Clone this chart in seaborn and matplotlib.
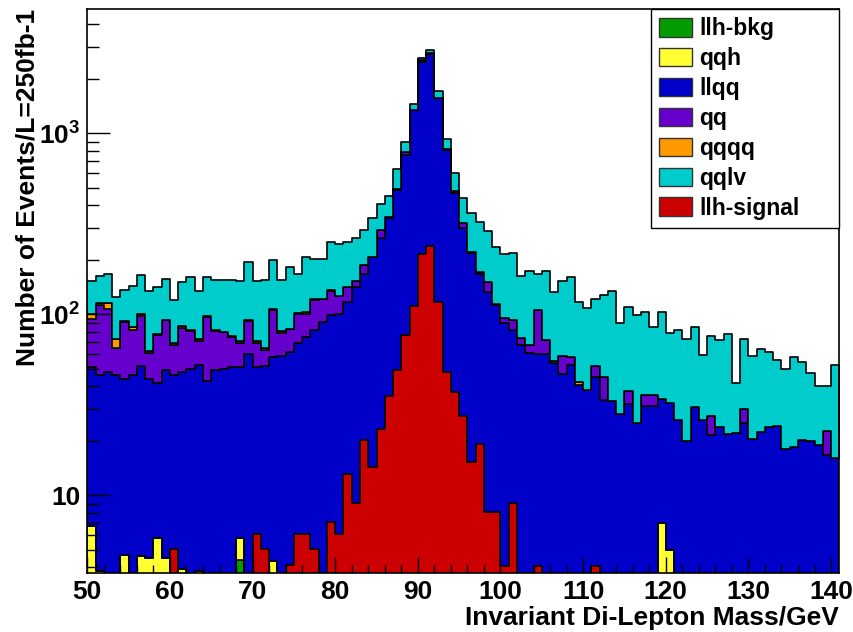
import numpy as np
import pandas as pd
import matplotlib
matplotlib.use("Agg")
import matplotlib.pyplot as plt
from matplotlib.patches import Patch
from matplotlib.ticker import (
    FixedLocator,
    FixedFormatter,
    MultipleLocator,
    LogLocator,
    NullFormatter,
)
import seaborn as sns

MASS_LO = 50  # lower edge of first 1 GeV bin

# events per 1 GeV bin, 50..140 GeV (91 bins)
llh_bkg = [
    0, 0, 0, 0, 0, 0, 0, 0, 0, 0,
    0, 0, 0, 0, 0, 0, 0, 0, 4.4, 0,
    0, 0, 0, 0, 0, 0, 0, 0, 0, 0,
    0, 0, 0, 0, 0, 0, 0, 0, 0, 0,
    0, 0, 0, 0, 0, 0, 0, 0, 0, 0,
    0, 0, 0, 0, 0, 0, 0, 0, 0, 0,
    0, 0, 0, 0, 0, 0, 0, 0, 0, 0,
    0, 0, 0, 0, 0, 0, 0, 0, 0, 0,
    0, 0, 0, 0, 0, 0, 0, 0, 0, 0,
    0,
]
qqh = [
    6.8, 3.8, 0, 0, 4.7, 0, 4.6, 4.5, 5.8, 4.5,
    0, 3.9, 0, 3.8, 0, 0, 0, 0, 1.4, 0,
    0, 0, 4.35, 0, 0, 0, 0, 0, 0, 0,
    0, 0, 0, 0, 0, 0, 0, 0, 0, 0,
    0, 0, 0, 0, 0, 0, 0, 0, 0, 0,
    0, 0, 0, 0, 0, 0, 0, 0, 0, 0,
    0, 0, 0, 0, 0, 0, 0, 0, 0, 7.0,
    5.0, 0, 0, 0, 0, 0, 0, 0, 0, 0,
    0, 0, 0, 0, 0, 0, 0, 0, 0, 0,
    0,
]
llqq = [
    44.2, 42.2, 48, 46, 39.3, 46, 47.4, 39.5, 36.2, 44.5,
    46, 44.1, 50, 48.7, 43, 49, 50, 51, 45.2, 60,
    51, 51.8, 53.5, 58.8, 62, 69.7, 74.6, 81.9, 91, 99,
    101, 117, 141, 168, 208, 263, 342, 486, 759, 1345,
    2488, 2731, 1561, 809, 470, 301, 217, 168, 132, 113,
    90, 82, 68, 61, 60, 60, 54, 47, 52.5, 40.7,
    38, 45, 33.6, 33, 28, 32, 25, 31, 31, 27,
    27.5, 26, 20, 30.6, 26, 21.5, 23.7, 21.7, 22.2, 25,
    20.5, 22.3, 23.7, 24.3, 18, 18.4, 20.2, 20, 19, 16.8,
    16,
]
qq = [
    43, 66, 59, 19, 47, 36, 46, 17, 35, 43.6,
    22, 36, 30.5, 19, 54, 32, 29.8, 23.6, 18.7, 31.8,
    18.7, 11.7, 48.2, 20.2, 20.6, 31.3, 26.4, 38.1, 30, 36,
    25, 25, 11, 19, 0, 29, 2, 6, 33, 5,
    53, 35, 13, 6, 12, 17, 5, 4, 18, 1,
    6, 11, 6, 6.5, 45, 12.5, 0, 11.6, 5.3, 0,
    0, 7, 11.6, 0, 0, 5.7, 0, 5, 5, 0,
    0, 0, 0, 0, 0, 6, 0, 0, 0, 5,
    0, 0, 0, 0, 0, 0, 0, 0, 0, 6,
    0,
]
qqqq = [
    7, 4, 8, 8, 1, 3, 2, 2, 1, 0.4,
    1, 2, 1.5, 1.5, 1, 1, 0.2, 1.4, 1.3, 1.2,
    1.3, 1.5, 0.5, 2, 0.4, 1, 2, 1, 1, 1,
    1, 0, 0, 0, 0, 0, 0, 0, 0, 0,
    0, 0, 0, 0, 0, 0, 0, 0, 0, 0,
    0, 0, 0, 0, 0, 0, 1, 0, 0, 1.7,
    0, 0, 0, 0, 0, 0, 0, 0, 0, 0,
    0, 0, 0, 0, 0, 0, 0, 0, 0, 0,
    0, 0, 0, 0, 0, 0, 0, 0, 0, 0,
    0,
]
qqlv = [
    52, 47, 51, 52, 45, 58, 64, 72, 63, 64,
    51, 65, 79, 62, 63, 73, 75, 79, 82, 102,
    82, 90, 94, 74, 100, 66, 105, 80, 79, 116,
    119, 108, 112, 107, 131, 115, 108, 143, 100, 102,
    77, 120, 146, 119, 122, 123, 139, 150, 140, 121,
    118, 124, 89, 106, 63, 100, 78, 94, 103, 74,
    71, 70, 82, 102, 61, 72, 74, 67, 49, 68.5,
    46, 56, 53, 55, 33.5, 48.5, 48, 56, 19.7, 43,
    38, 42, 38.5, 31.6, 32, 40, 34, 27.6, 21, 17.5,
    36.5,
]
llh_signal = [
    0, 0, 0, 0, 0, 0, 0, 0, 0, 0,
    5.05, 0, 0, 0, 0, 0, 0, 0, 0, 0,
    6.1, 5.05, 0, 0, 4.12, 6.1, 6.1, 5.05, 0, 7.1,
    6.1, 13.1, 9.1, 20.2, 14.3, 23.2, 35.5, 49, 76.9, 111,
    215, 238, 117, 48.2, 37.2, 27.4, 15.3, 19.2, 8.1, 8.1,
    4.07, 9.1, 0, 0, 4.07, 0, 0, 0, 0, 0,
    0, 4.07, 0, 0, 0, 0, 0, 0, 0, 0,
    0, 0, 0, 0, 0, 0, 0, 0, 0, 0,
    0, 0, 0, 0, 0, 0, 0, 0, 0, 0,
    0,
]

# stack order, bottom -> top (same as legend order)
processes = ["llh-bkg", "qqh", "llqq", "qq", "qqqq", "qqlv"]
colors = {
    "llh-bkg": "#009c00",
    "qqh": "#ffff33",
    "llqq": "#0000c8",
    "qq": "#6600cc",
    "qqqq": "#ff9900",
    "qqlv": "#00cccc",
    "llh-signal": "#cc0000",
}

edges = np.arange(MASS_LO, MASS_LO + len(llqq) + 1)
centers = edges[:-1] + 0.5
bin_edges = edges.tolist()  # seaborn chokes on an ndarray here when weights are given

frames = []
for name, vals in zip(processes, [llh_bkg, qqh, llqq, qq, qqqq, qqlv]):
    frames.append(pd.DataFrame({"mass": centers, "events": vals, "process": name}))
df = pd.concat(frames, ignore_index=True)

sns.set_style("white")
plt.rcParams["font.family"] = ["Liberation Sans", "DejaVu Sans"]
plt.rcParams["font.weight"] = "bold"
plt.rcParams["mathtext.fontset"] = "custom"
plt.rcParams["mathtext.bf"] = "Liberation Sans:bold"
plt.rcParams["mathtext.rm"] = "Liberation Sans:bold"
plt.rcParams["mathtext.default"] = "bf"
for key in ["text.color", "axes.labelcolor", "xtick.color", "ytick.color"]:
    plt.rcParams[key] = "black"

fig = plt.figure(figsize=(8.54, 6.32), dpi=100)
fig.patch.set_facecolor("white")
ax = fig.add_axes([0.1022, 0.0929, 0.8806, 0.8924])
ax.set_yscale("log")

# seaborn stacks the last hue level at the bottom
sns.histplot(
    data=df, x="mass", weights="events", hue="process",
    hue_order=processes[::-1], palette=colors, multiple="stack",
    bins=bin_edges, element="step", fill=True, alpha=1,
    edgecolor="black", linewidth=1.2, legend=False, ax=ax,
)
# signal drawn on its own, on top of the stack
sns.histplot(
    x=centers, weights=llh_signal, bins=bin_edges, element="step", fill=True,
    color=colors["llh-signal"], alpha=1, edgecolor="black", linewidth=1.2, ax=ax,
)

ax.set_xlim(50, 141)
ax.set_ylim(3.71, 4840)
ax.set_axisbelow(False)

ax.xaxis.set_major_locator(MultipleLocator(10))
ax.xaxis.set_minor_locator(MultipleLocator(2))
ax.yaxis.set_major_locator(FixedLocator([10, 100, 1000]))
ax.yaxis.set_major_formatter(FixedFormatter(["10", "$10^{2}$", "$10^{3}$"]))
ax.yaxis.set_minor_locator(LogLocator(base=10, subs=np.arange(2, 10)))
ax.yaxis.set_minor_formatter(NullFormatter())

ax.tick_params(axis="both", which="both", direction="in", bottom=True, left=True,
               top=False, right=False, color="black", width=1)
ax.tick_params(axis="x", which="major", length=11.5, labelsize=19, pad=5)
ax.tick_params(axis="x", which="minor", length=5.8)
ax.tick_params(axis="y", which="major", length=16.5, labelsize=19, pad=5)
ax.tick_params(axis="y", which="minor", length=8.6)
for lab in ax.get_xticklabels() + ax.get_yticklabels():
    lab.set_fontweight("bold")

for sp in ax.spines.values():
    sp.set_visible(True)
    sp.set_color("black")
    sp.set_linewidth(1.2)

ax.set_xlabel("Invariant Di-Lepton Mass/GeV", fontsize=19, fontweight="bold",
              loc="right")
ax.set_ylabel("Number of Events/L=250fb-1", fontsize=19, fontweight="bold",
              loc="top")
ax.xaxis.set_label_coords(1.0, -0.058)
ax.yaxis.set_label_coords(-0.064, 1.0)

handles = [
    Patch(facecolor=colors[n], edgecolor="#333333", linewidth=1, label=n)
    for n in processes + ["llh-signal"]
]
leg = ax.legend(
    handles=handles, loc="upper left", bbox_to_anchor=(0.7496, 0, 0.2504, 1.0),
    mode="expand", borderaxespad=0, frameon=True, fancybox=False,
    edgecolor="black", framealpha=1, fontsize=16.5, handlelength=1.45,
    handleheight=0.85, handletextpad=0.3, borderpad=0.35, labelspacing=0.3,
)
leg.get_frame().set_linewidth(1)
for t in leg.get_texts():
    t.set_fontweight("bold")

fig.savefig("out.png", dpi=100, facecolor="white")
